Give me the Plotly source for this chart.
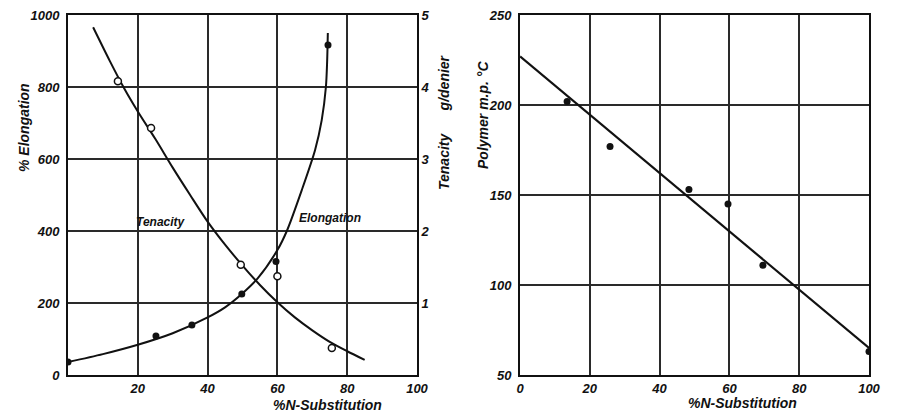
import plotly.graph_objects as go

# ---------------- data ----------------
# Left panel: elongation (% , left axis) and tenacity (g/denier, right axis)
elong_pts_x = [0, 25.2, 35.5, 49.8, 59.6, 74.5]
elong_pts_y = [36, 108, 139, 225, 315, 917]
elong_curve_x = [0, 10, 20, 30, 40, 45, 49.8, 54.4, 60, 62.7, 67, 70.8, 72.7, 73.9, 74.25, 74.45]
elong_curve_y = [36, 58, 84, 116, 160, 188, 225, 269, 347, 400, 514, 625, 708, 800, 870, 950]

ten_pts_x = [14.3, 23.8, 49.5, 60.0, 75.6]
ten_pts_y = [4.08, 3.43, 1.53, 1.37, 0.375]
ten_curve_x = [7.2, 12, 16, 20, 25, 30, 35, 40, 45, 50, 55, 60, 65, 70, 75, 80, 85]
ten_curve_y = [4.83, 4.36, 3.99, 3.66, 3.28, 2.88, 2.50, 2.13, 1.81, 1.52, 1.25, 1.01, 0.80, 0.62, 0.46, 0.33, 0.21]

# Right panel: polymer melting point
mp_pts_x = [13.5, 25.8, 48.4, 59.6, 69.6, 100]
mp_pts_y = [202, 177, 153, 145, 111, 63]
mp_line_x = [0, 100]
mp_line_y = [227, 65]

left_x_ticks = [20, 40, 60, 80, 100]
left_y_ticks = [0, 200, 400, 600, 800, 1000]
ten_ticks = [1, 2, 3, 4, 5]
right_x_ticks = [0, 20, 40, 60, 80, 100]
right_y_ticks = [50, 100, 150, 200, 250]

# ---------------- figure ----------------
OFF = 8                      # page body margin
W, H = 898 - OFF, 416 - OFF
INK = "#111111"
FONT = dict(family="Liberation Sans", size=13, color=INK, style="italic", weight=700)

def px(x):
    return (x - OFF) / W

def py(y):
    return 1 - (y - OFF) / H

fig = go.Figure()

fig.add_trace(go.Scatter(x=elong_curve_x, y=elong_curve_y, mode="lines",
                         line=dict(color=INK, width=2, shape="spline", smoothing=0.8),
                         xaxis="x", yaxis="y", showlegend=False))
fig.add_trace(go.Scatter(x=elong_pts_x, y=elong_pts_y, mode="markers",
                         marker=dict(color=INK, size=7),
                         xaxis="x", yaxis="y", showlegend=False))
fig.add_trace(go.Scatter(x=ten_curve_x, y=ten_curve_y, mode="lines",
                         line=dict(color=INK, width=2, shape="spline", smoothing=0.8),
                         xaxis="x", yaxis="y2", showlegend=False))
fig.add_trace(go.Scatter(x=ten_pts_x, y=ten_pts_y, mode="markers",
                         marker=dict(color="white", size=7, line=dict(color=INK, width=1.5)),
                         xaxis="x", yaxis="y2", showlegend=False))

fig.add_trace(go.Scatter(x=mp_line_x, y=mp_line_y, mode="lines",
                         line=dict(color=INK, width=2.2),
                         xaxis="x2", yaxis="y3", showlegend=False))
fig.add_trace(go.Scatter(x=mp_pts_x, y=mp_pts_y, mode="markers",
                         marker=dict(color=INK, size=7),
                         xaxis="x2", yaxis="y3", showlegend=False))

ax_common = dict(showline=True, linecolor=INK, linewidth=2, mirror=True,
                 showgrid=True, gridcolor="#2a2a2a", gridwidth=1.6,
                 zeroline=False, tickfont=FONT, fixedrange=True, automargin=False,
                 ticklabeloverflow="allow")
xtick = dict(ticks="")
ytick = dict(ticks="outside", ticklen=4, tickcolor="rgba(0,0,0,0)")

ydom = [py(375), py(15)]

fig.update_layout(
    width=W, height=H,
    margin=dict(l=0, r=0, t=0, b=0, autoexpand=False),
    paper_bgcolor="white", plot_bgcolor="white",
    xaxis=dict(domain=[px(68), px(417)], range=[0, 100], tickvals=left_x_ticks,
               anchor="y", **ax_common, **xtick),
    yaxis=dict(domain=ydom, range=[0, 1000], tickvals=left_y_ticks,
               anchor="x", **ax_common, **ytick),
    yaxis2=dict(overlaying="y", side="right", range=[0, 5], tickvals=ten_ticks,
                anchor="x", showline=False, showgrid=False, zeroline=False,
                ticks="outside", ticklen=1, tickcolor="rgba(0,0,0,0)",
                tickfont=FONT, fixedrange=True, automargin=False,
                ticklabeloverflow="allow"),
    xaxis2=dict(domain=[px(520), px(869)], range=[0, 100], tickvals=right_x_ticks,
                anchor="y3", **ax_common, **xtick),
    yaxis3=dict(domain=ydom, range=[50, 250], tickvals=right_y_ticks,
                anchor="x2", **ax_common, **ytick),
)

ann_font = dict(FONT)
ann_font["size"] = 12
title_font = dict(FONT)
title_font["size"] = 14
common = dict(showarrow=False, xanchor="center", yanchor="middle")
annotations = [
    dict(text="Tenacity", x=26.6, y=425, xref="x", yref="y", font=ann_font, **common),
    dict(text="Elongation", x=75, y=436, xref="x", yref="y", font=ann_font, **common),
    dict(text="% Elongation", x=px(24), y=py(128), xref="paper", yref="paper",
         textangle=-90, font=title_font, **common),
    dict(text="Tenacity&nbsp;&nbsp;&nbsp;&nbsp;&nbsp;&nbsp;g/denier", x=px(444), y=py(122),
         xref="paper", yref="paper", textangle=-90, font=title_font, **common),
    dict(text="%N-Substitution", x=px(327), y=py(405), xref="paper", yref="paper",
         font=title_font, **common),
    dict(text="%N-Substitution", x=px(742), y=py(403), xref="paper", yref="paper",
         font=title_font, **common),
    dict(text="Polymer m.p. °C", x=px(483), y=py(115), xref="paper", yref="paper",
         textangle=-90, font=title_font, **common),
]
fig.update_layout(annotations=annotations)

fig.write_html("out.html")
